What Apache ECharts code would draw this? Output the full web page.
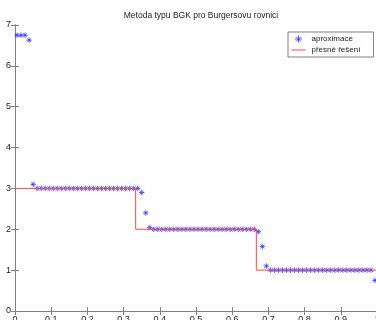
<!DOCTYPE html>
<html>
<head>
<meta charset="utf-8">
<script src="https://cdn.jsdelivr.net/npm/echarts@6/dist/echarts.min.js"></script>
<style>
    html, body {margin: 0; padding: 0; background: #fff;}
    #chart {width: 376px; height: 320px;}
</style>
</head>
<body>
<div id="chart"></div>
<script>
    // 90 buněk, hodnoty ve středech buněk
    var cellCount = 90;
    var approxValues = [
        6.75, 6.75, 6.75, 6.63, 3.1,
        3, 3, 3, 3, 3, 3, 3, 3, 3, 3, 3, 3, 3, 3, 3, 3, 3, 3, 3, 3, 3, 3, 3, 3, 3, 3,
        2.9, 2.4, 2.04,
        2, 2, 2, 2, 2, 2, 2, 2, 2, 2, 2, 2, 2, 2, 2, 2, 2, 2, 2, 2, 2, 2, 2, 2, 2, 2,
        1.94, 1.58, 1.1,
        1, 1, 1, 1, 1, 1, 1, 1, 1, 1, 1, 1, 1, 1, 1, 1, 1, 1, 1, 1, 1, 1, 1, 1, 1, 1,
        0.75
    ];
    // presne reseni - schod
    var exactX = [0, 1 / 3, 1 / 3, 2 / 3, 2 / 3, 1];
    var exactY = [3, 3, 2, 2, 1, 1];

    var xTicks = [0, 0.1, 0.2, 0.3, 0.4, 0.5, 0.6, 0.7, 0.8, 0.9, 1];
    var yTicks = [0, 1, 2, 3, 4, 5, 6, 7];

    var approxData = [];
    var idx;
    for (idx = 0; idx < cellCount; idx++) {
        approxData.push([(idx + 0.5) / cellCount, approxValues[idx]]);
    }
    var exactData = [];
    for (idx = 0; idx < exactX.length; idx++) {
        exactData.push([exactX[idx], exactY[idx]]);
    }

    var asterisk = 'path://M0,5L10,5M5,0L5,10M1.6,1.6L8.4,8.4M8.4,1.6L1.6,8.4';
    // vodorovna cara pro legendu (M body roztahnou obrys na vysku)
    var legendLine = 'path://M0,0M0,10M0,5L20,5';
    var axisColor = '#808080';
    var textColor = '#222';
    var blue = '#2a2aff';
    var red = '#ff4848';
    var fontFamily = 'Liberation Sans, Arial, sans-serif';

    function baseAxis(extra) {
        var axis = {
            type: 'value',
            axisLine: {show: true, lineStyle: {color: axisColor, width: 1}},
            axisTick: {show: true, inside: true, length: 4, lineStyle: {color: axisColor}},
            splitLine: {show: false},
            axisLabel: {show: true, color: textColor, fontSize: 9, fontFamily: fontFamily, margin: 4}
        };
        for (var key in extra) {
            axis[key] = extra[key];
        }
        return axis;
    }

    var echartsOptions = {
        animation: false,
        backgroundColor: '#fff',
        title: {
            text: 'Metoda typu BGK pro Burgersovu rovnici',
            left: 196,
            textAlign: 'center',
            top: 6,
            textStyle: {fontSize: 8.5, fontWeight: 'normal', color: textColor, fontFamily: fontFamily}
        },
        legend: {
            left: 288,
            top: 32,
            orient: 'vertical',
            backgroundColor: '#fff',
            borderColor: axisColor,
            borderWidth: 1,
            borderRadius: 0,
            padding: [3, 13, 3, 3],
            itemGap: 3,
            itemWidth: 16,
            itemHeight: 7,
            textStyle: {fontSize: 8, color: textColor, fontFamily: fontFamily, padding: [0, 0, 0, 0]},
            data: [
                {
                    name: 'aproximace',
                    icon: asterisk,
                    itemStyle: {color: 'rgba(0,0,255,0)', borderColor: blue, borderWidth: 1}
                },
                {
                    name: 'přesné řešení',
                    icon: legendLine,
                    itemStyle: {color: 'rgba(255,0,0,0)', borderColor: red, borderWidth: 1}
                }
            ]
        },
        grid: {left: 15, top: 25, width: 362, height: 286, outerBoundsMode: 'none', containLabel: false},
        xAxis: [
            baseAxis({min: 0, max: 1, interval: xTicks[1] - xTicks[0], position: 'bottom'}),
            baseAxis({min: 0, max: 1, interval: xTicks[1] - xTicks[0], position: 'top', axisLabel: {show: false}})
        ],
        yAxis: [
            baseAxis({min: 0, max: yTicks[yTicks.length - 1], interval: 1, position: 'left'}),
            baseAxis({min: 0, max: yTicks[yTicks.length - 1], interval: 1, position: 'right', axisLabel: {show: false}})
        ],
        series: [
            {
                name: 'aproximace',
                type: 'scatter',
                data: approxData,
                symbol: asterisk,
                symbolSize: 5.5,
                symbolKeepAspect: true,
                itemStyle: {color: 'rgba(0,0,255,0)', borderColor: blue, borderWidth: 0.9},
                z: 2
            },
            {
                name: 'přesné řešení',
                type: 'line',
                data: exactData,
                symbol: 'none',
                lineStyle: {color: red, width: 1},
                itemStyle: {color: red},
                z: 3
            }
        ]
    };

    var myChart = echarts.init(document.getElementById('chart'));
    myChart.setOption(echartsOptions);
</script>
</body>
</html>
